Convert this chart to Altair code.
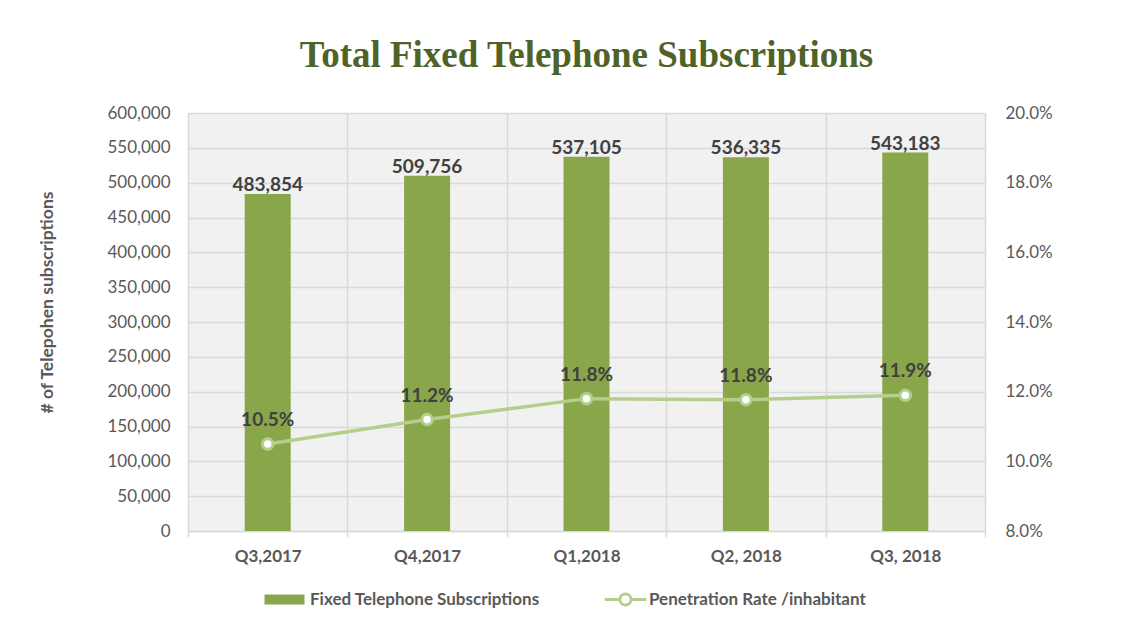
import altair as alt
import pandas as pd

quarters = ["Q3,2017", "Q4,2017", "Q1,2018", "Q2, 2018", "Q3, 2018"]
subscriptions = [483854, 509756, 537105, 536335, 543183]
penetration = [0.105, 0.112, 0.118, 0.1177, 0.119]
bar_series = "Fixed Telephone Subscriptions"
line_series = "Penetration Rate /inhabitant"
left_ticks = list(range(0, 600001, 50000))
right_ticks = [0.08, 0.10, 0.12, 0.14, 0.16, 0.18, 0.20]

df = pd.DataFrame({
    "quarter": quarters,
    "subs": subscriptions,
    "rate": penetration,
    "bar_s": [bar_series] * len(quarters),
    "line_s": [line_series] * len(quarters),
})

BAR = "#8aa64b"
LINE = "#b5ce8e"
TXT = "#404040"
AX = "#595959"
FONT = "Lato"

x_enc = alt.X("quarter:N", sort=quarters, title=None,
              scale=alt.Scale(paddingInner=0, paddingOuter=0),
              axis=alt.Axis(labelAngle=0, labelFont=FONT, labelFontSize=17,
                            labelFontWeight="bold", labelColor=AX, labelPadding=11,
                            tickBand="extent", grid=True, gridColor="#d9d9d9",
                            gridWidth=1.5, tickColor="#d9d9d9", tickSize=6,
                            tickWidth=1.5, domainColor="#d9d9d9", domainWidth=1.5))

y_left = alt.Y("subs:Q", scale=alt.Scale(domain=[0, 600000], nice=False),
               axis=alt.Axis(values=left_ticks, format=",.0f", title="# of Telepohen subscriptions",
                             labelFont=FONT, labelFontSize=17, labelColor=AX, labelPadding=18,
                             domain=False, ticks=False, grid=True, gridColor="#d9d9d9",
                             gridWidth=1.5, titleFont=FONT, titleFontSize=17.5,
                             titleFontWeight="bold", titleColor=AX, titleX=-141, titleY=189,
                             titleAngle=-90, titleAlign="center", titleBaseline="middle"))

y_right = alt.Y("rate:Q", scale=alt.Scale(domain=[0.08, 0.20], nice=False),
                axis=alt.Axis(orient="right", values=right_ticks, format=".1%", title=None,
                              labelFont=FONT, labelFontSize=17, labelColor=AX, labelPadding=20,
                              domain=False, ticks=False, grid=False))

bars = alt.Chart(df).mark_bar(size=46).encode(
    x=x_enc,
    y=y_left,
    color=alt.Color("bar_s:N", scale=alt.Scale(range=[BAR]),
                    legend=alt.Legend(orient="none", legendX=84, legendY=474, title=None,
                                      symbolType="M-1.6,-0.4H1.6V0.4H-1.6Z", symbolSize=625,
                                      symbolStrokeWidth=0, labelFont=FONT, labelFontSize=17,
                                      labelFontWeight="bold", labelColor=AX, labelOffset=13,
                                      labelLimit=0)),
)

bar_text = alt.Chart(df).mark_text(font=FONT, fontSize=19, fontWeight="bold", color=TXT,
                                   baseline="middle", dy=-9).encode(
    x=x_enc,
    y=y_left,
    text=alt.Text("subs:Q", format=",.0f"),
)

line = alt.Chart(df).mark_line(strokeWidth=3.5).encode(
    x=x_enc,
    y=y_right,
    color=alt.Color("line_s:N", scale=alt.Scale(range=[LINE]),
                    legend=alt.Legend(orient="none", legendX=420, legendY=469, title=None,
                                      symbolType="M-1.3,0H-0.35M0.35,0H1.3M-0.35,0A0.35,0.35,0,1,1,0.35,0A0.35,0.35,0,1,1,-0.35,0",
                                      symbolSize=1024, symbolStrokeWidth=3,
                                      symbolFillColor="white", labelFont=FONT,
                                      labelFontSize=17, labelFontWeight="bold", labelColor=AX,
                                      labelOffset=6, labelLimit=0)),
)

points = alt.Chart(df).mark_point(filled=True, fill="white", stroke=LINE, strokeWidth=3,
                                  size=110, opacity=1).encode(
    x=x_enc,
    y=y_right,
)

line_text = alt.Chart(df).mark_text(font=FONT, fontSize=19, fontWeight="bold", color=TXT,
                                    baseline="middle", dy=-24).encode(
    x=x_enc,
    y=y_right,
    text=alt.Text("rate:Q", format=".1%"),
)

chart = alt.layer(
    alt.layer(bars, bar_text),
    alt.layer(line, points, line_text),
).resolve_scale(y="independent", color="independent").properties(
    width=797, height=418,
    autosize=alt.AutoSizeParams(type="none"),
    padding={"left": 180, "top": 105, "right": 131, "bottom": 85},
    view=alt.ViewBackground(fill="#f1f1f1", stroke=None),
    title=alt.TitleParams("Total Fixed Telephone Subscriptions", font="Liberation Serif",
                          fontSize=37, fontWeight="bold", color="#4f6228", anchor="middle",
                          offset=29),
).configure(background="white")

chart.save("out.html", embed_options={"renderer": "svg", "actions": False})
